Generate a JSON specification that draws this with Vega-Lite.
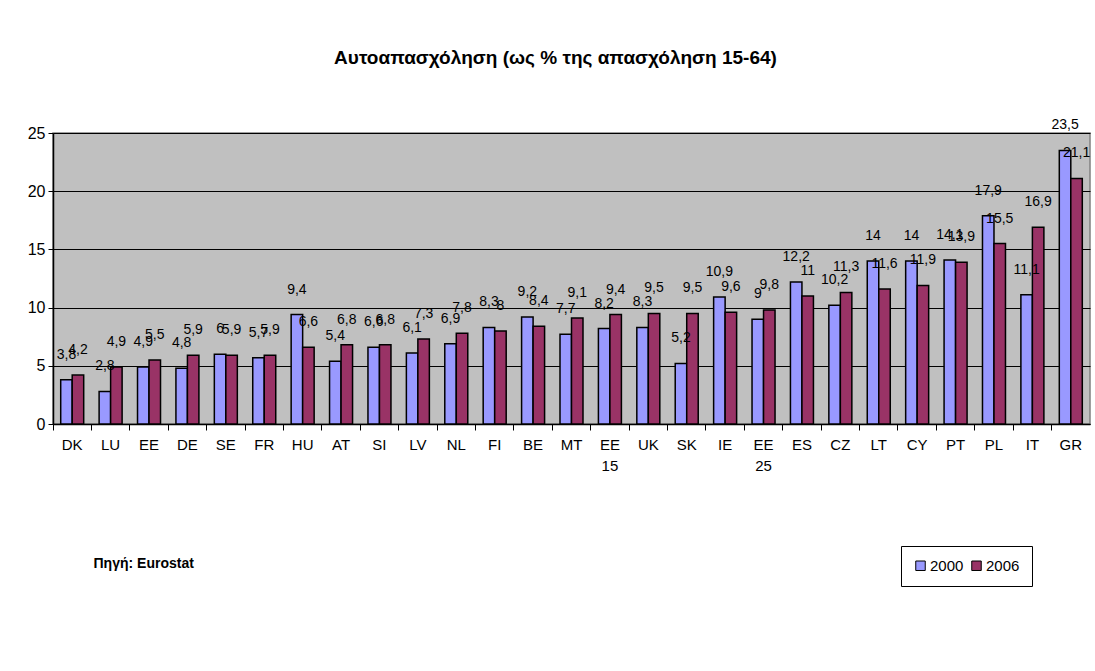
{
  "$schema": "https://vega.github.io/schema/vega-lite/v6.json",
  "width": 1037,
  "height": 291,
  "autosize": {"type": "none"},
  "padding": {"left": 53, "top": 133, "right": 5, "bottom": 247},
  "background": "white",
  "title": {
    "text": "Αυτοαπασχόληση (ως % της απασχόληση 15-64)",
    "font": "Liberation Sans, Arial, sans-serif",
    "fontSize": 19,
    "fontWeight": "bold",
    "color": "black",
    "anchor": "middle",
    "dx": -16,
    "offset": 50
  },
  "data": {
    "values": [
      {"country": "DK", "year": "2000", "value": 3.8}, {"country": "DK", "year": "2006", "value": 4.2},
      {"country": "LU", "year": "2000", "value": 2.8}, {"country": "LU", "year": "2006", "value": 4.9},
      {"country": "EE", "year": "2000", "value": 4.9}, {"country": "EE", "year": "2006", "value": 5.5},
      {"country": "DE", "year": "2000", "value": 4.8}, {"country": "DE", "year": "2006", "value": 5.9},
      {"country": "SE", "year": "2000", "value": 6}, {"country": "SE", "year": "2006", "value": 5.9},
      {"country": "FR", "year": "2000", "value": 5.7}, {"country": "FR", "year": "2006", "value": 5.9},
      {"country": "HU", "year": "2000", "value": 9.4}, {"country": "HU", "year": "2006", "value": 6.6},
      {"country": "AT", "year": "2000", "value": 5.4}, {"country": "AT", "year": "2006", "value": 6.8},
      {"country": "SI", "year": "2000", "value": 6.6}, {"country": "SI", "year": "2006", "value": 6.8},
      {"country": "LV", "year": "2000", "value": 6.1}, {"country": "LV", "year": "2006", "value": 7.3},
      {"country": "NL", "year": "2000", "value": 6.9}, {"country": "NL", "year": "2006", "value": 7.8},
      {"country": "FI", "year": "2000", "value": 8.3}, {"country": "FI", "year": "2006", "value": 8},
      {"country": "BE", "year": "2000", "value": 9.2}, {"country": "BE", "year": "2006", "value": 8.4},
      {"country": "MT", "year": "2000", "value": 7.7}, {"country": "MT", "year": "2006", "value": 9.1},
      {"country": "EE 15", "year": "2000", "value": 8.2}, {"country": "EE 15", "year": "2006", "value": 9.4},
      {"country": "UK", "year": "2000", "value": 8.3}, {"country": "UK", "year": "2006", "value": 9.5},
      {"country": "SK", "year": "2000", "value": 5.2}, {"country": "SK", "year": "2006", "value": 9.5},
      {"country": "IE", "year": "2000", "value": 10.9}, {"country": "IE", "year": "2006", "value": 9.6},
      {"country": "EE 25", "year": "2000", "value": 9}, {"country": "EE 25", "year": "2006", "value": 9.8},
      {"country": "ES", "year": "2000", "value": 12.2}, {"country": "ES", "year": "2006", "value": 11},
      {"country": "CZ", "year": "2000", "value": 10.2}, {"country": "CZ", "year": "2006", "value": 11.3},
      {"country": "LT", "year": "2000", "value": 14}, {"country": "LT", "year": "2006", "value": 11.6},
      {"country": "CY", "year": "2000", "value": 14}, {"country": "CY", "year": "2006", "value": 11.9},
      {"country": "PT", "year": "2000", "value": 14.1}, {"country": "PT", "year": "2006", "value": 13.9},
      {"country": "PL", "year": "2000", "value": 17.9}, {"country": "PL", "year": "2006", "value": 15.5},
      {"country": "IT", "year": "2000", "value": 11.1}, {"country": "IT", "year": "2006", "value": 16.9},
      {"country": "GR", "year": "2000", "value": 23.5}, {"country": "GR", "year": "2006", "value": 21.1}
    ]
  },
  "encoding": {
    "x": {
      "field": "country",
      "type": "nominal",
      "sort": null,
      "scale": {"paddingInner": 0, "paddingOuter": 0},
      "axis": {
        "title": "Πηγή: Eurostat",
        "titleFont": "Liberation Sans, Arial, sans-serif",
        "titleFontSize": 14,
        "titleFontWeight": "bold",
        "titleColor": "black",
        "titleAlign": "left",
        "titleBaseline": "middle",
        "titleAnchor": "start",
        "titleX": 40,
        "titleY": 139,
        "bandPosition": 0,
        "labelAngle": 0,
        "labelExpr": "split(datum.label, ' ')",
        "labelLineHeight": 21,
        "labelFont": "Liberation Sans, Arial, sans-serif",
        "labelFontSize": 15,
        "labelColor": "black",
        "labelPadding": 14,
        "labelBaseline": "middle",
        "tickSize": 6,
        "tickColor": "black",
        "domainColor": "black",
        "domainWidth": 1.5,
        "grid": false
      }
    },
    "xOffset": {
      "field": "year",
      "type": "nominal",
      "sort": ["2000", "2006"],
      "scale": {"paddingInner": 0, "paddingOuter": 0.67}
    },
    "y": {
      "field": "value",
      "type": "quantitative",
      "scale": {"domain": [0, 25], "nice": false},
      "axis": {
        "title": null,
        "values": [0, 5, 10, 15, 20, 25],
        "grid": true,
        "gridColor": "black",
        "gridWidth": 1,
        "domainColor": "black",
        "domainWidth": 1.5,
        "tickColor": "black",
        "tickSize": 5,
        "labelFont": "Liberation Sans, Arial, sans-serif",
        "labelFontSize": 16,
        "labelColor": "black",
        "labelPadding": 3
      }
    }
  },
  "layer": [
    {
      "mark": {"type": "bar", "stroke": "black", "strokeWidth": 1.5},
      "encoding": {
        "color": {
          "field": "year",
          "type": "nominal",
          "scale": {"domain": ["2000", "2006"], "range": ["#9999FF", "#993366"]},
          "legend": {
            "title": null,
            "orient": "none",
            "legendX": 848,
            "legendY": 413,
            "direction": "horizontal",
            "padding": 12,
            "strokeColor": "black",
            "fillColor": "white",
            "symbolType": "square",
            "symbolSize": 90,
            "symbolStrokeColor": "black",
            "symbolStrokeWidth": 1,
            "symbolOpacity": 1,
            "labelFont": "Liberation Sans, Arial, sans-serif",
            "labelFontSize": 15,
            "labelColor": "black",
            "labelOffset": 2,
            "columnPadding": 5
          }
        }
      }
    },
    {
      "transform": [{"calculate": "replace(toString(datum.value), '.', ',')", "as": "lbl"}],
      "mark": {
        "type": "text",
        "baseline": "middle",
        "dy": -25,
        "font": "Liberation Sans, Arial, sans-serif",
        "fontSize": 14,
        "color": "black"
      },
      "encoding": {"text": {"field": "lbl"}}
    }
  ],
  "config": {
    "view": {"fill": "#C0C0C0", "stroke": "#808080", "strokeWidth": 1.5}
  }
}
